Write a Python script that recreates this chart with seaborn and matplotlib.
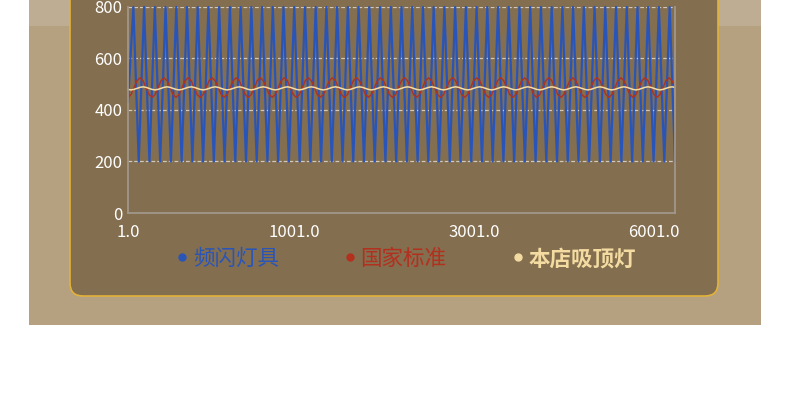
import numpy as np
import matplotlib
matplotlib.use("Agg")
import matplotlib.pyplot as plt
from matplotlib.patches import Rectangle, FancyBboxPatch
from matplotlib.lines import Line2D
import seaborn as sns

# 频闪灯具 (blue zigzag)
blue_vals = [
    430,
    800, 200, 800, 200, 800, 200, 800, 200, 800, 200,
    800, 200, 800, 200, 800, 200, 800, 200, 800, 200,
    800, 200, 800, 200, 800, 200, 800, 200, 800, 200,
    800, 200, 800, 200, 800, 200, 800, 200, 800, 200,
    800, 200, 800, 200, 800, 200, 800, 200, 800, 200,
    800, 200, 800, 200, 800, 200, 800, 200, 800, 200,
    800, 200, 800, 200, 800, 200, 800, 200, 800, 200,
    800, 200, 800, 200, 800, 200, 800, 200, 800, 200,
    800, 200, 800, 200, 800, 200, 800, 200, 800, 200,
    800, 200, 800, 200, 800, 200, 800, 200, 800, 200,
    800, 200,
]

# 国家标准 (red wave)
red_vals = [
    449, 460, 487, 514, 525, 514, 487, 460,
    449, 460, 487, 514, 525, 514, 487, 460,
    449, 460, 487, 514, 525, 514, 487, 460,
    449, 460, 487, 514, 525, 514, 487, 460,
    449, 460, 487, 514, 525, 514, 487, 460,
    449, 460, 487, 514, 525, 514, 487, 460,
    449, 460, 487, 514, 525, 514, 487, 460,
    449, 460, 487, 514, 525, 514, 487, 460,
    449, 460, 487, 514, 525, 514, 487, 460,
    449, 460, 487, 514, 525, 514, 487, 460,
    449, 460, 487, 514, 525, 514, 487, 460,
    449, 460, 487, 514, 525, 514, 487, 460,
    449, 460, 487, 514, 525, 514, 487, 460,
    449, 460, 487, 514, 525, 514, 487, 460,
    449, 460, 487, 514, 525, 514, 487, 460,
    449, 460, 487, 514, 525, 514, 487, 460,
    449, 460, 487, 514, 525, 514, 487, 460,
    449, 460, 487, 514, 525, 514, 487, 460,
    449, 460, 487, 514, 525, 514, 487, 460,
    449, 460, 487, 514, 525, 514, 487, 460,
    449, 460, 487, 514, 525, 514, 487, 460,
    449, 460, 487, 514, 525, 514, 487, 460,
    449, 460, 487, 514, 525, 514, 487,
]

# 本店吸顶灯 (cream, nearly flat)
cream_vals = [
    480, 478, 480, 484, 488, 490, 488, 484,
    480, 478, 480, 484, 488, 490, 488, 484,
    480, 478, 480, 484, 488, 490, 488, 484,
    480, 478, 480, 484, 488, 490, 488, 484,
    480, 478, 480, 484, 488, 490, 488, 484,
    480, 478, 480, 484, 488, 490, 488, 484,
    480, 478, 480, 484, 488, 490, 488, 484,
    480, 478, 480, 484, 488, 490, 488, 484,
    480, 478, 480, 484, 488, 490, 488, 484,
    480, 478, 480, 484, 488, 490, 488, 484,
    480, 478, 480, 484, 488, 490, 488, 484,
    480, 478, 480, 484, 488, 490, 488, 484,
    480, 478, 480, 484, 488, 490, 488, 484,
    480, 478, 480, 484, 488, 490, 488, 484,
    480, 478, 480, 484, 488, 490, 488, 484,
    480, 478, 480, 484, 488, 490, 488, 484,
    480, 478, 480, 484, 488, 490, 488, 484,
    480, 478, 480, 484, 488, 490, 488, 484,
    480, 478, 480, 484, 488, 490, 488, 484,
    480, 478, 480, 484, 488, 490, 488, 484,
    480, 478, 480, 484, 488, 490, 488, 484,
    480, 478, 480, 484, 488, 490, 488, 484,
    480, 478, 480, 484, 488, 490, 488,
]

series_names = ["频闪灯具", "国家标准", "本店吸顶灯"]
series_colors = ["#2a55b8", "#b3301f", "#f4dba2"]
y_ticks = [0, 200, 400, 600, 800]
x_tick_pos = [0, 31, 64.5, 98]
x_tick_labels = ["1.0", "1001.0", "3001.0", "6001.0"]

sns.set_theme(style="white")
plt.rcParams['font.family'] = ['Noto Sans CJK SC', 'DejaVu Sans']

fig = plt.figure(figsize=(7.9, 4.15), dpi=100)
fig.patch.set_facecolor("white")

# background drawn in pixel coords
bg = fig.add_axes([0, 0, 1, 1], zorder=0)
bg.set_xlim(0, 790)
bg.set_ylim(415, 0)
bg.axis("off")
bg.add_patch(Rectangle((29, 0), 732, 325, facecolor="#b5a080", edgecolor="none"))
bg.add_patch(Rectangle((29, 0), 732, 26, facecolor="#bead92", edgecolor="none"))
bg.add_patch(FancyBboxPatch((70, -40), 648, 336,
                            boxstyle="round,pad=0,rounding_size=13",
                            facecolor="#836e4f", edgecolor="#e2b23a", lw=1.2))

ax = fig.add_axes([128 / 790, 1 - 213 / 415, 547 / 790, 206 / 415], zorder=2)
ax.set_facecolor("none")

x_blue = np.arange(len(blue_vals))
x_fine = np.linspace(0, len(blue_vals) - 1, len(red_vals))

sns.lineplot(x=x_blue, y=blue_vals, ax=ax, color=series_colors[0], lw=1.6, sort=False, estimator=None)
sns.lineplot(x=x_fine, y=red_vals, ax=ax, color=series_colors[1], lw=1.0, sort=False, estimator=None)
sns.lineplot(x=x_fine, y=cream_vals, ax=ax, color=series_colors[2], lw=1.1, sort=False, estimator=None)
for ln in ax.lines:
    ln.set_clip_on(False)

ax.set_xlim(0, len(blue_vals) - 1)
ax.set_ylim(0, 800)
ax.set_yticks(y_ticks)
ax.set_xticks(x_tick_pos)
ax.set_xticklabels(x_tick_labels)
ax.set_xlabel("")
ax.set_ylabel("")

ax.yaxis.grid(True, linestyle=(0, (3, 1.6)), color="#d2c9b8", lw=0.9)
ax.xaxis.grid(False)
ax.set_axisbelow(True)
for s in ["left", "right", "bottom"]:
    ax.spines[s].set_visible(True)
    ax.spines[s].set_color("#a0968a")
    ax.spines[s].set_linewidth(1.3)
ax.spines["top"].set_visible(False)

ax.tick_params(axis="both", length=0, labelcolor="white", labelsize=12)
ax.tick_params(axis="y", pad=4)
ax.tick_params(axis="x", pad=8)

handles = [Line2D([], [], marker="o", ls="", color=c, markersize=5) for c in series_colors]
leg = fig.legend(handles, series_names, loc="center", bbox_to_anchor=(0.515, 0.376),
                 bbox_transform=fig.transFigure, ncol=3, frameon=False,
                 labelcolor=series_colors, prop={"size": 15.5},
                 handlelength=0.4, handletextpad=0.3, columnspacing=3.1)
leg.get_texts()[2].set_fontweight("bold")

fig.savefig("out.png", dpi=100, facecolor="white")
